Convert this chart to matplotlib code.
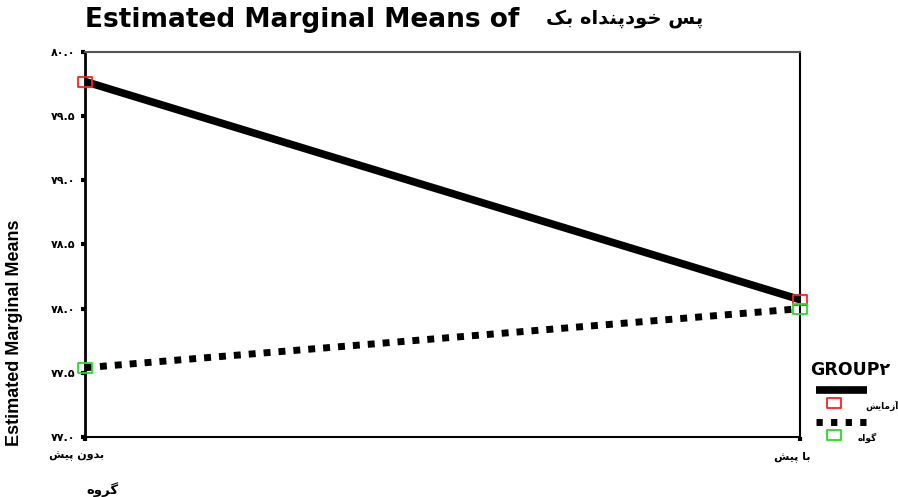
import matplotlib
matplotlib.use('Agg')
import matplotlib.pyplot as plt
import matplotlib.transforms as mtransforms
from matplotlib.lines import Line2D
from matplotlib.path import Path

# data
conditions = ['بدون پیش', 'با پیش']
groups = ['آزمایش', 'گواه']
means_test = [79.77, 78.07]
means_ctrl = [77.54, 78.00]
yticks = [77.0, 77.5, 78.0, 78.5, 79.0, 79.5, 80.0]
title_fa = 'پس خودپنداه بک'
xlabel_fa = 'گروه'

# contextual forms: isolated, final, initial, medial (None = does not join forward)
FORMS = {
    'ا': ('\uFE8D', '\uFE8E', None, None),
    'آ': ('\uFE81', '\uFE82', None, None),
    'ب': ('\uFE8F', '\uFE90', '\uFE91', '\uFE92'),
    'پ': ('\uFB56', '\uFB57', '\uFB58', '\uFB59'),
    'خ': ('\uFEA5', '\uFEA6', '\uFEA7', '\uFEA8'),
    'د': ('\uFEA9', '\uFEAA', None, None),
    'ر': ('\uFEAD', '\uFEAE', None, None),
    'ز': ('\uFEAF', '\uFEB0', None, None),
    'س': ('\uFEB1', '\uFEB2', '\uFEB3', '\uFEB4'),
    'ش': ('\uFEB5', '\uFEB6', '\uFEB7', '\uFEB8'),
    'م': ('\uFEE1', '\uFEE2', '\uFEE3', '\uFEE4'),
    'ن': ('\uFEE5', '\uFEE6', '\uFEE7', '\uFEE8'),
    'ه': ('\uFEE9', '\uFEEA', '\uFEEB', '\uFEEC'),
    'و': ('\uFEED', '\uFEEE', None, None),
    'ک': ('\uFB8E', '\uFB8F', '\uFB90', '\uFB91'),
    'گ': ('\uFB92', '\uFB93', '\uFB94', '\uFB95'),
    'ی': ('\uFBFC', '\uFBFD', '\uFBFE', '\uFBFF'),
}


def fa(s):
    # shape persian letters and put them in visual (left to right) order
    out = []
    for i, c in enumerate(s):
        if c not in FORMS:
            out.append(c)
            continue
        prev = s[i - 1] if i > 0 else ''
        nxt = s[i + 1] if i + 1 < len(s) else ''
        jp = prev in FORMS and FORMS[prev][2] is not None
        jn = FORMS[c][2] is not None and nxt in FORMS
        f = FORMS[c]
        if jp and jn:
            out.append(f[3])
        elif jp:
            out.append(f[1])
        elif jn:
            out.append(f[2])
        else:
            out.append(f[0])
    return ''.join(out)[::-1]


def fa_num(v):
    return ''.join('۰۱۲۳۴۵۶۷۸۹'[int(ch)] if ch.isdigit() else ch for ch in f'{v:.1f}')


plt.rcParams['font.family'] = ['Liberation Sans', 'DejaVu Sans']

# slightly wide open rectangle, like the spss markers
rect = Path([(-1, -0.7), (1, -0.7), (1, 0.7), (-1, 0.7), (-1, -0.7)], closed=True)
red, green = '#ff2020', '#22dd22'

fig = plt.figure(figsize=(8.98, 4.97), dpi=100)
ax = fig.add_axes([0.0947, 0.1207, 0.7963, 0.7747])

x = [0, 1]
ax.plot(x, means_test, color='black', lw=5.5, solid_capstyle='butt', zorder=2)
ax.plot(x, means_ctrl, color='black', lw=5, dashes=(1.0, 1.15), dash_capstyle='butt', zorder=2)
ax.plot(x, means_test, ls='none', marker=rect, ms=10, mfc='none', mec=red, mew=1.3,
        clip_on=False, zorder=3)
ax.plot(x, means_ctrl, ls='none', marker=rect, ms=10, mfc='none', mec=green, mew=1.3,
        clip_on=False, zorder=3)

ax.set_xlim(0, 1)
ax.set_ylim(77.0, 80.0)
ax.set_yticks(yticks)
ax.set_yticklabels([fa_num(v) for v in yticks], family='DejaVu Sans', fontsize=8, fontweight='bold')
ax.set_xticks(x)
ax.set_xticklabels([fa(c) for c in conditions], family='DejaVu Sans', fontsize=8, fontweight='bold')
ax.tick_params(axis='both', direction='out', length=3, width=3, color='black', pad=4)
shift = mtransforms.ScaledTranslation(-8 / 100, -4 / 100, fig.dpi_scale_trans)
for lab in ax.get_xticklabels():
    lab.set_transform(lab.get_transform() + shift)

ax.spines['left'].set_linewidth(2)
ax.spines['bottom'].set_linewidth(1.5)
ax.spines['right'].set_linewidth(1.5)
ax.spines['top'].set_linewidth(1.5)
ax.spines['top'].set_color('#555555')

ax.set_ylabel('Estimated Marginal Means', family=['Liberation Sans Narrow', 'Liberation Sans'],
              fontsize=13, fontweight='bold')
ax.yaxis.set_label_coords(-0.087, 0.27)

fig.text(102 / 898, 1 - 490 / 497, fa(xlabel_fa), family='DejaVu Sans', fontsize=9.5, fontweight='bold',
         ha='center', va='center')

fig.text(85 / 898, 1 - 20 / 497, 'Estimated Marginal Means of', family='DejaVu Sans',
         fontsize=19, fontweight='bold', ha='left', va='center')
fig.text(703 / 898, 1 - 18 / 497, fa(title_fa), family='DejaVu Sans',
         fontsize=14, fontweight='bold', ha='right', va='center')

# legend
fig.text(810 / 898, 1 - 370 / 497, 'GROUP۲', family='DejaVu Sans', fontsize=12.5, fontweight='bold',
         ha='left', va='center')
styles = [dict(lw=5.5, solid_capstyle='butt'), dict(lw=5, dashes=(0.9, 1.2), dash_capstyle='butt')]
edge = [red, green]
for i, g in enumerate(groups):
    yl = 1 - (390 + i * 32) / 497
    fig.add_artist(Line2D([816 / 898, 867 / 898], [yl, yl], color='black', transform=fig.transFigure,
                          **styles[i]))
    fig.add_artist(Line2D([834 / 898], [yl - 12.5 / 497], ls='none', marker=rect, ms=10, mfc='none',
                          mec=edge[i], mew=1.3, transform=fig.transFigure))
    fig.text([865, 858][i] / 898, yl - 16 / 497, fa(g), family='DejaVu Sans', fontsize=6.5,
             fontweight='bold', ha='left', va='center')

fig.savefig('out.png', dpi=100)
